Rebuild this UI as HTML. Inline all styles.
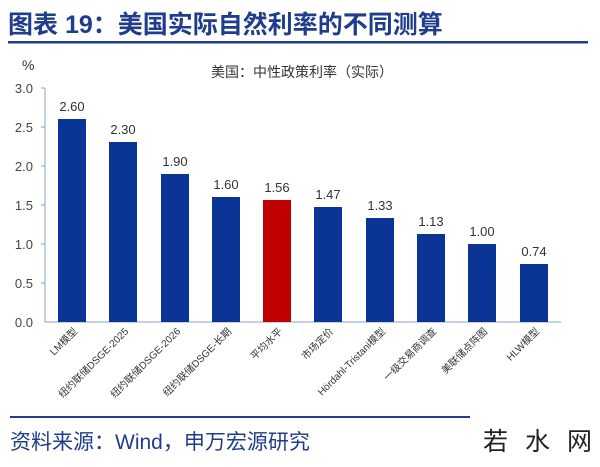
<!DOCTYPE html>
<html><head><meta charset="utf-8"><style>
body{margin:0;background:#fff;width:600px;height:462px;overflow:hidden;font-family:"Liberation Sans","Noto Sans CJK SC",sans-serif;}
</style></head><body>
<svg width="600" height="462" xmlns="http://www.w3.org/2000/svg" font-family="Liberation Sans, Noto Sans CJK SC, sans-serif">
<text x="8" y="33" font-size="25" font-weight="bold" fill="#1f3d8c">图表 19：美国实际自然利率的不同测算</text>
<rect x="8" y="41" width="580" height="2.5" fill="#1f3d8c"/>
<text x="22" y="70" font-size="14" fill="#333">%</text>
<text x="302" y="77" font-size="14" fill="#333" text-anchor="middle">美国：中性政策利率（实际）</text>
<g font-size="13" fill="#444" text-anchor="end">
<text x="33" y="93">3.0</text><text x="33" y="132">2.5</text><text x="33" y="171">2.0</text>
<text x="33" y="210">1.5</text><text x="33" y="249">1.0</text><text x="33" y="288">0.5</text><text x="33" y="327">0.0</text>
</g>
<g stroke="#8aa0c8" stroke-width="1">
<line x1="45" y1="88" x2="45" y2="322"/><line x1="45" y1="322" x2="561" y2="322"/>
<line x1="41" y1="88" x2="45" y2="88"/><line x1="41" y1="127" x2="45" y2="127"/><line x1="41" y1="166" x2="45" y2="166"/>
<line x1="41" y1="205" x2="45" y2="205"/><line x1="41" y1="244" x2="45" y2="244"/><line x1="41" y1="283" x2="45" y2="283"/>
</g>
<g fill="#0a3597">
<rect x="58" y="119" width="28" height="203"/>
<rect x="109" y="142" width="28" height="180"/>
<rect x="161" y="174" width="28" height="148"/>
<rect x="212" y="197" width="28" height="125"/>
<rect x="263" y="200" width="28" height="122" fill="#c00000"/>
<rect x="314" y="207" width="28" height="115"/>
<rect x="366" y="218" width="28" height="104"/>
<rect x="417" y="234" width="28" height="88"/>
<rect x="468" y="244" width="28" height="78"/>
<rect x="520" y="264" width="28" height="58"/>
</g>
<g font-size="13" fill="#333" text-anchor="middle">
<text x="72" y="111">2.60</text><text x="123" y="134">2.30</text><text x="175" y="166">1.90</text>
<text x="226" y="189">1.60</text><text x="277" y="192">1.56</text><text x="328" y="199">1.47</text>
<text x="380" y="210">1.33</text><text x="431" y="226">1.13</text><text x="482" y="236">1.00</text><text x="534" y="256">0.74</text>
</g>
<g font-size="10" fill="#333" text-anchor="end">
<text transform="translate(78,332) rotate(-45)">LM模型</text>
<text transform="translate(129,332) rotate(-45)">纽约联储DSGE-2025</text>
<text transform="translate(181,332) rotate(-45)">纽约联储DSGE-2026</text>
<text transform="translate(232,332) rotate(-45)">纽约联储DSGE-长期</text>
<text transform="translate(283,332) rotate(-45)">平均水平</text>
<text transform="translate(334,332) rotate(-45)">市场定价</text>
<text transform="translate(386,332) rotate(-45)">Hördahl-Tristani模型</text>
<text transform="translate(437,332) rotate(-45)">一级交易商调查</text>
<text transform="translate(488,332) rotate(-45)">美联储点阵图</text>
<text transform="translate(540,332) rotate(-45)">HLW模型</text>
</g>
<rect x="10" y="416" width="460" height="2" fill="#1f3d8c"/>
<text x="10" y="449" font-size="21" fill="#1f3d8c">资料来源：Wind，申万宏源研究</text>
<text x="483" y="450" font-size="25" fill="#222" letter-spacing="17">若水网</text>
</svg>
</body></html>
